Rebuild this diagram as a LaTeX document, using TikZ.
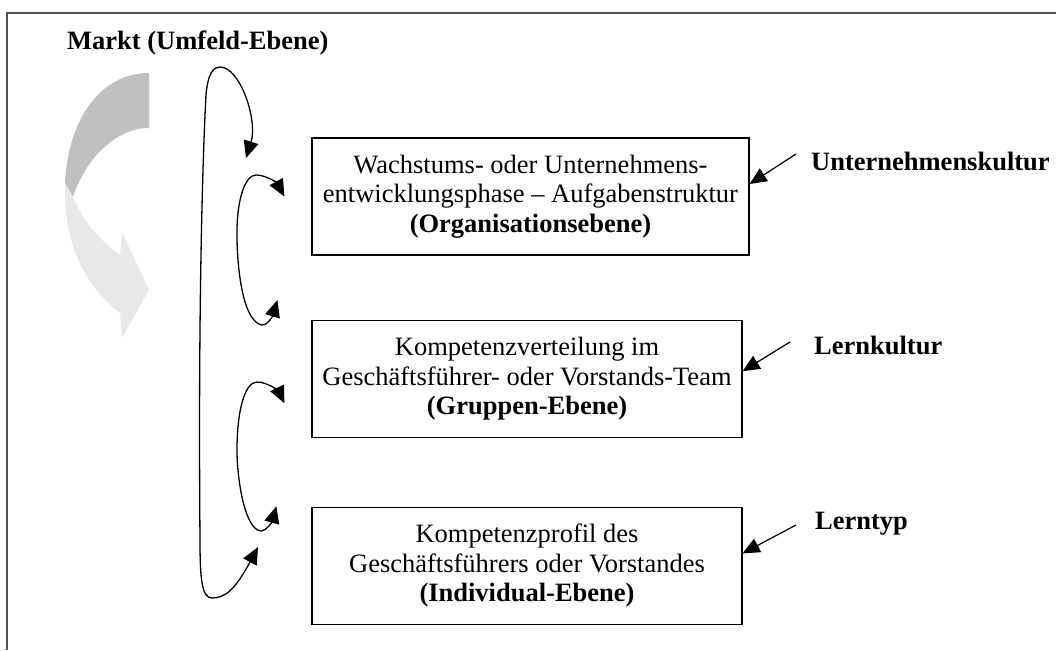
\documentclass[tikz,border=0pt]{standalone}
\usepackage{fontspec}
\setmainfont{Liberation Serif}
\usetikzlibrary{arrows.meta, positioning, calc}

\definecolor{framegray}{HTML}{505050}
\definecolor{darkarrow}{HTML}{C0C0C0}
\definecolor{lightarrow}{HTML}{E8E8E8}

\begin{document}
\begin{tikzpicture}[x=1pt, y=-1pt, >={Triangle[length=17pt, width=15pt]},
  font=\fontsize{26.5}{29.5}\selectfont, align=center, inner sep=0pt,
  ebene/.style={draw, line width=1.2pt, minimum height=117pt},
  kultur/.style={font=\fontsize{26.5}{29.5}\selectfont\bfseries, anchor=base west},
  loop/.style={<->, line width=1.3pt}]
\useasboundingbox (0,0) rectangle (1056,650);
\draw[framegray, line width=2pt] (1056,13) -- (7,13) -- (7,650);

% market arrow (grey)
\fill[darkarrow] (149,73) -- (149,128) .. controls (115,128) and (85,160) .. (73,197)
  -- (65,183) .. controls (68,120) and (100,73) .. (149,73) -- cycle;
\fill[lightarrow] (65,183) .. controls (63,250) and (90,290) .. (120,313) -- (122,338)
  -- (149,290) -- (122,232) -- (120,255) .. controls (100,240) and (85,225) .. (73,197) -- cycle;

\node[kultur] (markt) at (67,50) {Markt (Umfeld-Ebene)};

% the three levels
\node[ebene, minimum width=437pt] (orga) at (530.5,196.5)
  {Wachstums- oder Unternehmens-\\entwicklungsphase -- Aufgabenstruktur\\\textbf{(Organisationsebene)}};
\node[ebene, minimum width=430pt, below=64pt of orga.south west, anchor=north west] (gruppe)
  {Kompetenzverteilung im\\Gesch\"aftsf\"uhrer- oder Vorstands-Team\\\textbf{(Gruppen-Ebene)}};
\node[ebene, minimum width=430pt, below=69pt of gruppe.south west, anchor=north west] (indiv)
  {Kompetenzprofil des\\Gesch\"aftsf\"uhrers oder Vorstandes\\\textbf{(Individual-Ebene)}};

\node[kultur] (ukultur) at (811,170) {Unternehmenskultur};
\node[kultur] (lkultur) at (814,354) {Lernkultur};
\node[kultur] (ltyp) at (815,529) {Lerntyp};

\coordinate (ukTail) at (796,154);
\coordinate (lkTail) at (790,342);
\coordinate (ltTail) at (796,525);
\draw[->, line width=1.2pt] (ukTail) -- ([yshift=12.5pt]orga.east);
\draw[->, line width=1.2pt] (lkTail) -- ([yshift=7.5pt]gruppe.east);
\draw[->, line width=1.2pt] (ltTail) -- ([yshift=12.5pt]indiv.east);

% feedback loops
\coordinate (marktIn) at (246,158);
\coordinate (marktOut) at (258,547);
\draw[loop] (marktOut) .. controls (235,590) and (225,598) .. (212,598)
  .. controls (202,598) and (200,580) .. (200,540)
  .. controls (198,300) and (203,150) .. (206,95)
  .. controls (208,72) and (214,67) .. (220,67)
  .. controls (240,67) and (258,120) .. (marktIn);
\draw[loop] ([xshift=-34pt, yshift=-103.5pt]orga.west) .. controls (272,318) and (266,326) .. (262,325)
  .. controls (245,322) and (238,280) .. (237,240)
  .. controls (236,200) and (245,175) .. (256,175)
  .. controls (266,175) and (277,183) .. ([xshift=-27pt]orga.west);
\draw[loop] ([xshift=-35pt, yshift=-127.5pt]gruppe.west) .. controls (272,522) and (266,531) .. (261,531)
  .. controls (245,530) and (237,480) .. (237,450)
  .. controls (237,410) and (245,382) .. (257,382)
  .. controls (268,382) and (279,392) .. ([xshift=-27pt, yshift=-24.5pt]gruppe.west);
\end{tikzpicture}
\end{document}
